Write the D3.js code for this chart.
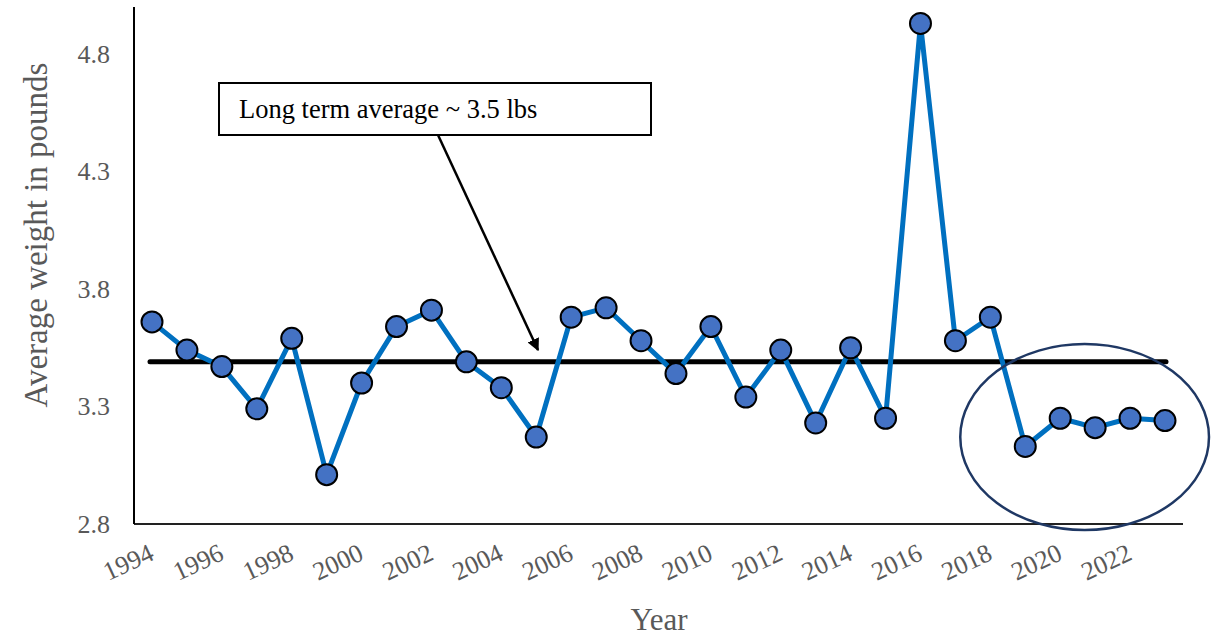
<!DOCTYPE html>
<html>
<head>
<meta charset="utf-8">
<script src="https://cdn.jsdelivr.net/npm/d3@7"></script>
<style>
  html, body { margin: 0; padding: 0; background: #fff; }
  svg { display: block; }
</style>
</head>
<body>
<svg id="chart" width="1225" height="636"></svg>
<script>
// Annual average weight (lbs)
const years = d3.range(1994, 2024);
const weights = [3.66, 3.54, 3.47, 3.29, 3.59, 3.01, 3.40, 3.64, 3.71, 3.49,
                 3.38, 3.17, 3.68, 3.72, 3.58, 3.44, 3.64, 3.34, 3.54, 3.23,
                 3.55, 3.25, 4.93, 3.58, 3.68, 3.13, 3.25, 3.21, 3.25, 3.24];
const longTermAverage = 3.49;
const yTicks = [2.8, 3.3, 3.8, 4.3, 4.8];
const xTicks = d3.range(1994, 2024, 2);
const noteText = "Long term average ~ 3.5 lbs";
const highlightYears = [2019, 2023];

const svg = d3.select("#chart");
const serif = "Liberation Serif, Times New Roman, serif";

const x = d3.scaleLinear().domain([1994, 2023]).range([152, 1165]);
const y = d3.scaleLinear().domain([2.8, 5.0]).range([524, 7]);

// axes
const xAxis = svg.append("g").attr("transform", `translate(0,${y(2.8)})`)
  .call(d3.axisBottom(x).tickValues(xTicks).tickFormat(d3.format("d")).tickSize(0).tickPadding(0));
xAxis.attr("font-family", serif).attr("font-size", 26);
xAxis.select(".domain").attr("d", `M134,0H1183`).attr("stroke", "#222").attr("stroke-width", 1.8);
xAxis.selectAll("text")
  .attr("fill", "#595959")
  .attr("text-anchor", "end").attr("dy", null).attr("y", 0)
  .attr("transform", "translate(3,35) rotate(-25)");

const yAxis = svg.append("g").attr("transform", "translate(134,0)")
  .call(d3.axisLeft(y).tickValues(yTicks).tickFormat(d3.format(".1f")).tickSize(0).tickPadding(24));
yAxis.attr("font-family", serif).attr("font-size", 26);
yAxis.select(".domain").attr("d", `M0,${y(2.8)}V${y(5.0)}`).attr("stroke", "#000").attr("stroke-width", 2);
yAxis.selectAll("text").attr("fill", "#595959");

// axis titles
svg.append("text").attr("x", 659).attr("y", 630).attr("text-anchor", "middle")
  .attr("font-family", serif).attr("font-size", 31).attr("fill", "#595959").text("Year");
svg.append("text").attr("transform", "translate(47,235) rotate(-90)").attr("text-anchor", "middle")
  .attr("font-family", serif).attr("font-size", 33).attr("fill", "#595959").text("Average weight in pounds");

// long-term average line
svg.append("line")
  .attr("x1", x(1994) - 2).attr("x2", x(2023) + 1)
  .attr("y1", y(longTermAverage)).attr("y2", y(longTermAverage))
  .attr("stroke", "#000").attr("stroke-width", 5).attr("stroke-linecap", "round");

// series line
const data = years.map((yr, i) => ({ yr, v: weights[i] }));
svg.append("path").datum(data)
  .attr("fill", "none").attr("stroke", "#0070c0").attr("stroke-width", 5)
  .attr("stroke-linejoin", "round")
  .attr("d", d3.line().x(d => x(d.yr)).y(d => y(d.v)));

// markers
svg.selectAll("circle.pt").data(data).join("circle").attr("class", "pt")
  .attr("cx", d => x(d.yr)).attr("cy", d => y(d.v)).attr("r", 10.5)
  .attr("fill", "#4472c4").attr("stroke", "#000").attr("stroke-width", 2);

// ellipse round the most recent years
const ex0 = x(highlightYears[0]) - 65, ex1 = x(highlightYears[1]) + 44;
svg.append("ellipse")
  .attr("cx", (ex0 + ex1) / 2).attr("cy", y(3.17)).attr("rx", (ex1 - ex0) / 2).attr("ry", 93)
  .attr("fill", "none").attr("stroke", "#1f3864").attr("stroke-width", 2.5);

// annotation box + arrow
const defs = svg.append("defs");
defs.append("marker").attr("id", "arrow").attr("viewBox", "0 0 10 10")
  .attr("refX", 9).attr("refY", 5).attr("markerWidth", 5).attr("markerHeight", 5)
  .attr("orient", "auto-start-reverse").attr("markerUnits", "strokeWidth")
  .append("path").attr("d", "M0,0L10,5L0,10Z").attr("fill", "#000");

svg.append("rect").attr("x", 219).attr("y", 83).attr("width", 432).attr("height", 52)
  .attr("fill", "#fff").attr("stroke", "#000").attr("stroke-width", 2);
svg.append("text").attr("x", 239).attr("y", 118)
  .attr("font-family", serif).attr("font-size", 26.5).attr("fill", "#000").text(noteText);
svg.append("line").attr("x1", 438).attr("y1", 135).attr("x2", 538).attr("y2", 350)
  .attr("stroke", "#000").attr("stroke-width", 2.5).attr("marker-end", "url(#arrow)");
</script>
</body>
</html>
